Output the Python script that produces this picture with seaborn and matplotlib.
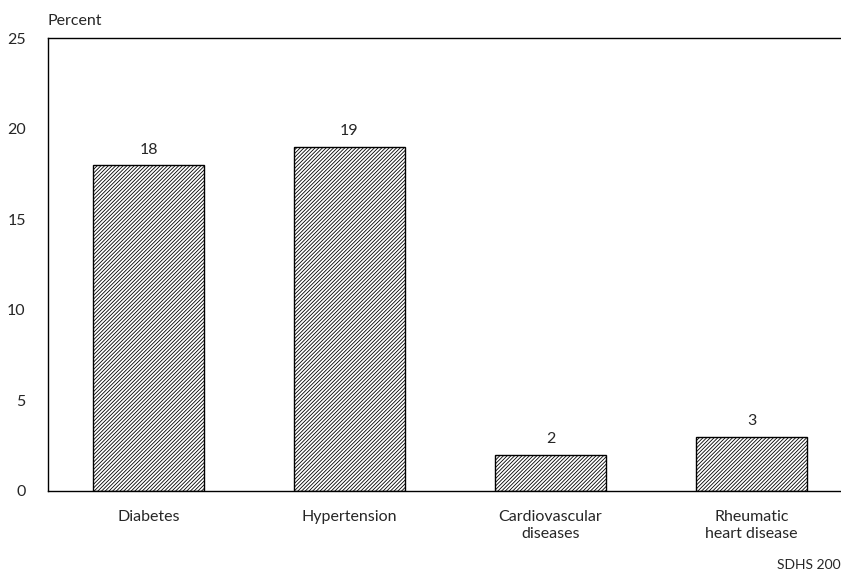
import pandas as pd
import seaborn as sns
import matplotlib.pyplot as plt

categories = ["Diabetes", "Hypertension", "Cardiovascular\ndiseases", "Rheumatic\nheart disease"]
values = [18, 19, 2, 3]
y_ticks = [0, 5, 10, 15, 20, 25]

df = pd.DataFrame({"condition": categories, "percent": values})

sns.set_style("white")
plt.rcParams["font.family"] = ["Lato", "DejaVu Sans"]
plt.rcParams["hatch.linewidth"] = 0.6

fig = plt.figure(figsize=(8.41, 5.76), dpi=100)
ax = fig.add_axes([0.057, 0.1476, 0.943, 0.7864])

sns.barplot(data=df, x="condition", y="percent", color="white",
            edgecolor="black", linewidth=1.0, width=0.552, ax=ax)
for p in ax.patches:
    p.set_hatch("/////////")

ax.bar_label(ax.containers[0], labels=[str(v) for v in values], padding=6, fontsize=11.5)

ax.set_ylim(0, 25)
ax.set_xlim(-0.5, 3.445)
ax.set_yticks(y_ticks)
ax.set_xlabel("")
ax.set_ylabel("")
ax.tick_params(axis="both", length=0, labelsize=11.5)
ax.tick_params(axis="x", pad=14)
ax.tick_params(axis="y", pad=16)

for side in ["left", "top", "bottom"]:
    ax.spines[side].set_color("black")
    ax.spines[side].set_linewidth(1.0)
ax.spines["right"].set_visible(False)

fig.text(0.057, 0.952, "Percent", fontsize=11.5, ha="left", va="bottom")
fig.text(0.999, 0.008, "SDHS 200", fontsize=10, ha="right", va="bottom")

fig.savefig("out.png", dpi=100)
